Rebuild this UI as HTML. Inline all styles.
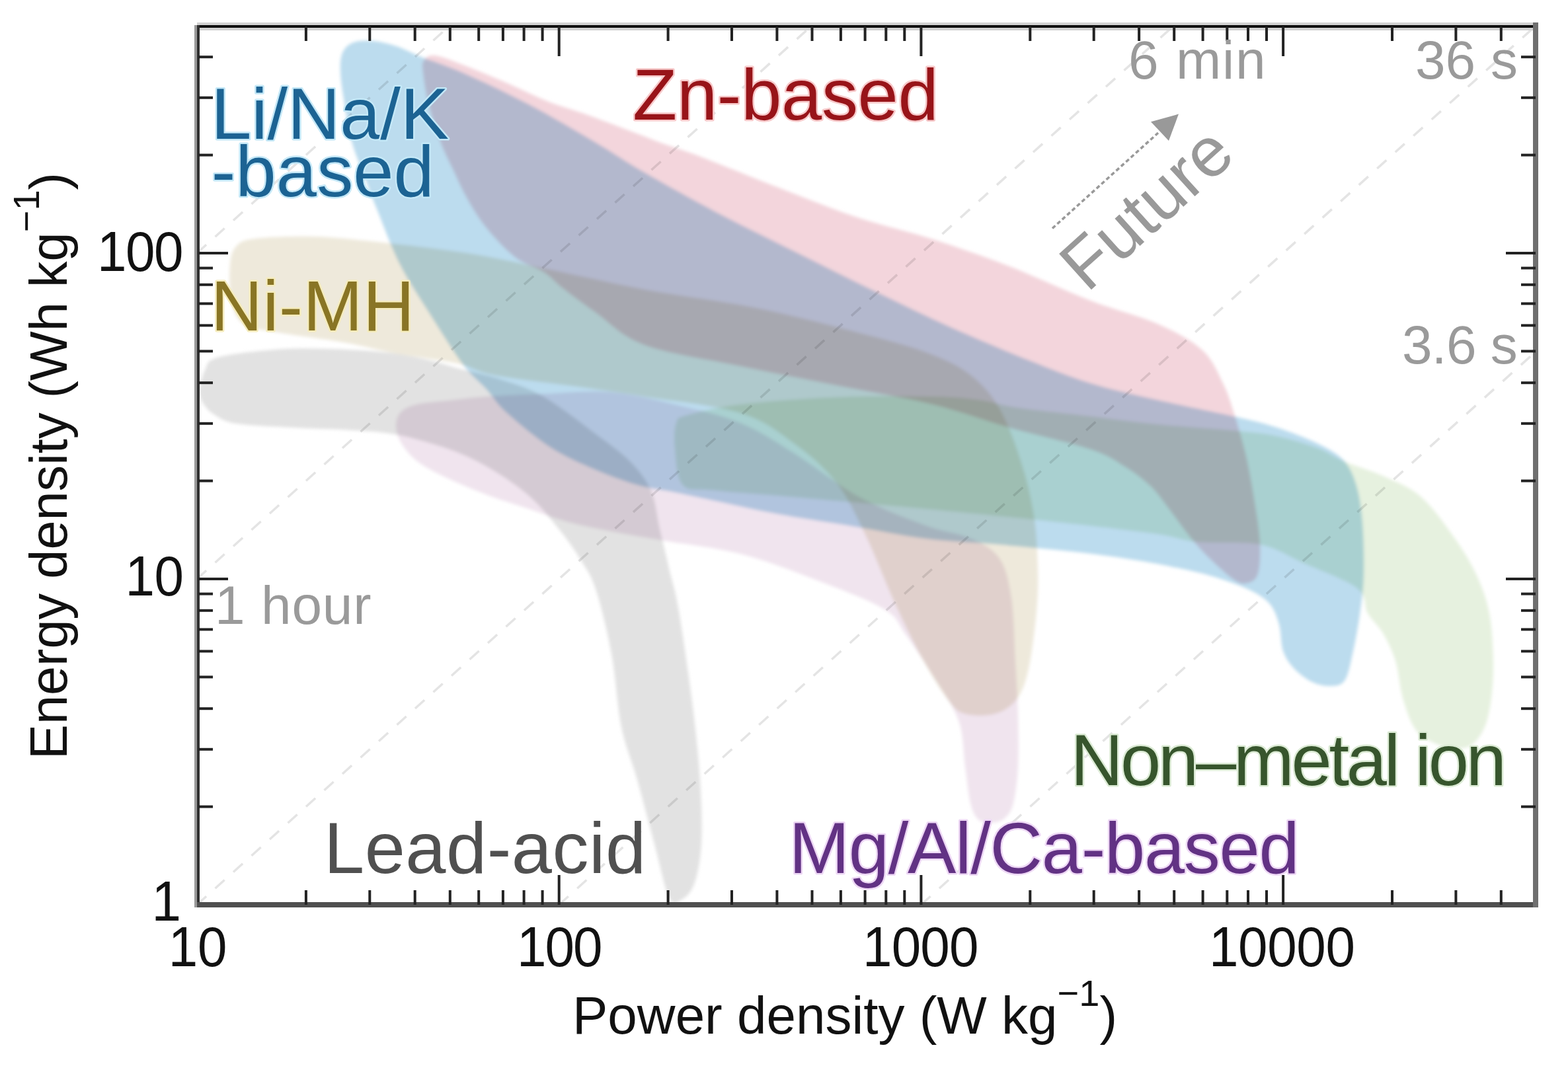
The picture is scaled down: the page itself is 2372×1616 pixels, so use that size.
<!DOCTYPE html>
<html><head><meta charset="utf-8"><style>
html,body{margin:0;padding:0;background:#fff;width:2372px;height:1616px;overflow:hidden}
svg{display:block}
text{font-family:"Liberation Sans",Arial,sans-serif}
.b{mix-blend-mode:multiply}
</style></head><body>
<svg width="2372" height="1616" viewBox="0 0 2372 1616">
<defs><filter id="bl" x="-5%" y="-5%" width="110%" height="110%"><feGaussianBlur stdDeviation="2.5"/></filter></defs>
<rect width="2372" height="1616" fill="#fff"/>

<g filter="url(#bl)">
<path class="b" d="M302.0,590.0 C302.5,581.7 305.5,568.2 310.0,560.0 C314.5,551.8 311.3,546.2 329.0,541.0 C346.7,535.8 387.0,531.2 416.0,529.0 C445.0,526.8 474.0,527.2 503.0,528.0 C532.0,528.8 565.7,531.2 590.0,534.0 C614.3,536.8 632.0,541.2 649.0,545.0 C666.0,548.8 673.5,552.0 692.0,557.0 C710.5,562.0 738.3,567.8 760.0,575.0 C781.7,582.2 798.8,586.7 822.0,600.0 C845.2,613.3 877.0,638.5 899.0,655.0 C921.0,671.5 939.7,684.3 954.0,699.0 C968.3,713.7 977.7,726.2 985.0,743.0 C992.3,759.8 993.5,780.5 998.0,800.0 C1002.5,819.5 1007.2,839.2 1012.0,860.0 C1016.8,880.8 1021.0,890.0 1027.0,925.0 C1033.0,960.0 1042.7,1027.5 1048.0,1070.0 C1053.3,1112.5 1056.8,1145.5 1059.0,1180.0 C1061.2,1214.5 1062.5,1250.7 1061.0,1277.0 C1059.5,1303.3 1055.2,1323.8 1050.0,1338.0 C1044.8,1352.2 1036.3,1358.7 1030.0,1362.0 C1023.7,1365.3 1018.7,1372.2 1012.0,1358.0 C1005.3,1343.8 998.0,1306.7 990.0,1277.0 C982.0,1247.3 972.3,1209.5 964.0,1180.0 C955.7,1150.5 946.5,1131.8 940.0,1100.0 C933.5,1068.2 931.5,1023.8 925.0,989.0 C918.5,954.2 909.0,915.0 901.0,891.0 C893.0,867.0 886.3,860.2 877.0,845.0 C867.7,829.8 857.8,815.8 845.0,800.0 C832.2,784.2 817.5,765.3 800.0,750.0 C782.5,734.7 760.0,719.7 740.0,708.0 C720.0,696.3 703.0,688.3 680.0,680.0 C657.0,671.7 626.7,662.8 602.0,658.0 C577.3,653.2 558.2,652.8 532.0,651.0 C505.8,649.2 474.0,648.7 445.0,647.0 C416.0,645.3 378.0,644.2 358.0,641.0 C338.0,637.8 333.5,633.2 325.0,628.0 C316.5,622.8 310.8,616.3 307.0,610.0 C303.2,603.7 301.5,598.3 302.0,590.0Z" fill="rgb(226,226,226)"/>
<path class="b" d="M348.0,400.0 C349.3,386.2 351.5,378.5 358.0,372.0 C364.5,365.5 367.7,363.3 387.0,361.0 C406.3,358.7 445.0,357.3 474.0,358.0 C503.0,358.7 522.2,360.8 561.0,365.0 C599.8,369.2 663.3,376.2 707.0,383.0 C750.7,389.8 778.3,396.8 823.0,406.0 C867.7,415.2 920.7,427.8 975.0,438.0 C1029.3,448.2 1090.8,455.0 1149.0,467.0 C1207.2,479.0 1280.3,498.3 1324.0,510.0 C1367.7,521.7 1386.8,527.3 1411.0,537.0 C1435.2,546.7 1452.2,554.5 1469.0,568.0 C1485.8,581.5 1499.3,596.0 1512.0,618.0 C1524.7,640.0 1536.3,673.0 1545.0,700.0 C1553.7,727.0 1559.8,753.3 1564.0,780.0 C1568.2,806.7 1569.3,835.8 1570.0,860.0 C1570.7,884.2 1570.3,899.7 1568.0,925.0 C1565.7,950.3 1561.0,989.8 1556.0,1012.0 C1551.0,1034.2 1546.5,1046.7 1538.0,1058.0 C1529.5,1069.3 1518.0,1076.3 1505.0,1080.0 C1492.0,1083.7 1471.7,1083.3 1460.0,1080.0 C1448.3,1076.7 1445.7,1073.7 1435.0,1060.0 C1424.3,1046.3 1409.7,1022.8 1396.0,998.0 C1382.3,973.2 1367.5,942.5 1353.0,911.0 C1338.5,879.5 1323.7,839.2 1309.0,809.0 C1294.3,778.8 1283.2,753.2 1265.0,730.0 C1246.8,706.8 1224.2,687.5 1200.0,670.0 C1175.8,652.5 1157.5,636.7 1120.0,625.0 C1082.5,613.3 1014.8,606.5 975.0,600.0 C935.2,593.5 918.5,591.3 881.0,586.0 C843.5,580.7 781.5,574.0 750.0,568.0 C718.5,562.0 717.0,555.5 692.0,550.0 C667.0,544.5 628.7,540.3 600.0,535.0 C571.3,529.7 550.0,523.3 520.0,518.0 C490.0,512.7 445.3,507.7 420.0,503.0 C394.7,498.3 379.7,498.0 368.0,490.0 C356.3,482.0 353.3,470.0 350.0,455.0 C346.7,440.0 346.7,413.8 348.0,400.0Z" fill="rgb(238,233,219)"/>
<path class="b" d="M599.0,645.0 C598.7,637.0 600.8,629.5 606.0,624.0 C611.2,618.5 618.0,615.0 630.0,612.0 C642.0,609.0 660.3,608.0 678.0,606.0 C695.7,604.0 712.0,601.7 736.0,600.0 C760.0,598.3 791.2,597.2 822.0,596.0 C852.8,594.8 887.8,590.3 921.0,593.0 C954.2,595.7 987.8,604.2 1021.0,612.0 C1054.2,619.8 1090.2,627.8 1120.0,640.0 C1149.8,652.2 1170.0,666.3 1200.0,685.0 C1230.0,703.7 1266.7,733.7 1300.0,752.0 C1333.3,770.3 1371.8,784.5 1400.0,795.0 C1428.2,805.5 1450.3,806.7 1469.0,815.0 C1487.7,823.3 1501.8,830.0 1512.0,845.0 C1522.2,860.0 1526.0,879.2 1530.0,905.0 C1534.0,930.8 1534.3,970.5 1536.0,1000.0 C1537.7,1029.5 1539.3,1055.3 1540.0,1082.0 C1540.7,1108.7 1541.2,1137.8 1540.0,1160.0 C1538.8,1182.2 1536.3,1202.0 1533.0,1215.0 C1529.7,1228.0 1525.5,1233.0 1520.0,1238.0 C1514.5,1243.0 1506.7,1244.7 1500.0,1245.0 C1493.3,1245.3 1485.3,1245.0 1480.0,1240.0 C1474.7,1235.0 1471.3,1228.3 1468.0,1215.0 C1464.7,1201.7 1463.0,1180.8 1460.0,1160.0 C1457.0,1139.2 1458.3,1113.3 1450.0,1090.0 C1441.7,1066.7 1423.3,1041.7 1410.0,1020.0 C1396.7,998.3 1382.0,976.3 1370.0,960.0 C1358.0,943.7 1360.3,935.7 1338.0,922.0 C1315.7,908.3 1272.3,892.0 1236.0,878.0 C1199.7,864.0 1158.7,848.0 1120.0,838.0 C1081.3,828.0 1035.7,823.5 1004.0,818.0 C972.3,812.5 954.0,809.7 930.0,805.0 C906.0,800.3 881.7,795.8 860.0,790.0 C838.3,784.2 820.0,776.7 800.0,770.0 C780.0,763.3 760.0,757.5 740.0,750.0 C720.0,742.5 697.7,733.3 680.0,725.0 C662.3,716.7 646.0,708.8 634.0,700.0 C622.0,691.2 613.8,681.2 608.0,672.0 C602.2,662.8 599.3,653.0 599.0,645.0Z" fill="rgb(240,228,238)"/>
<path class="b" d="M1021.0,680.0 C1019.3,664.3 1019.8,648.7 1023.0,640.0 C1026.2,631.3 1023.8,632.7 1040.0,628.0 C1056.2,623.3 1082.5,616.5 1120.0,612.0 C1157.5,607.5 1216.5,603.0 1265.0,601.0 C1313.5,599.0 1375.2,599.3 1411.0,600.0 C1446.8,600.7 1458.5,602.2 1480.0,605.0 C1501.5,607.8 1511.7,612.8 1540.0,617.0 C1568.3,621.2 1615.0,625.8 1650.0,630.0 C1685.0,634.2 1713.2,638.3 1750.0,642.0 C1786.8,645.7 1840.7,649.0 1871.0,652.0 C1901.3,655.0 1911.7,655.7 1932.0,660.0 C1952.3,664.3 1976.2,671.7 1993.0,678.0 C2009.8,684.3 2016.2,690.8 2033.0,698.0 C2049.8,705.2 2074.5,712.0 2094.0,721.0 C2113.5,730.0 2132.2,736.3 2150.0,752.0 C2167.8,767.7 2187.0,795.2 2201.0,815.0 C2215.0,834.8 2225.3,852.2 2234.0,871.0 C2242.7,889.8 2248.8,906.7 2253.0,928.0 C2257.2,949.3 2258.5,977.7 2259.0,999.0 C2259.5,1020.3 2258.2,1039.2 2256.0,1056.0 C2253.8,1072.8 2251.2,1088.0 2246.0,1100.0 C2240.8,1112.0 2233.5,1122.7 2225.0,1128.0 C2216.5,1133.3 2205.0,1133.0 2195.0,1132.0 C2185.0,1131.0 2174.2,1127.0 2165.0,1122.0 C2155.8,1117.0 2147.2,1113.0 2140.0,1102.0 C2132.8,1091.0 2126.8,1073.0 2122.0,1056.0 C2117.2,1039.0 2116.0,1016.3 2111.0,1000.0 C2106.0,983.7 2099.0,970.0 2092.0,958.0 C2085.0,946.0 2075.5,939.3 2069.0,928.0 C2062.5,916.7 2069.2,902.7 2053.0,890.0 C2036.8,877.3 1996.5,863.0 1972.0,852.0 C1947.5,841.0 1932.8,829.3 1906.0,824.0 C1879.2,818.7 1837.0,822.7 1811.0,820.0 C1785.0,817.3 1785.2,813.0 1750.0,808.0 C1714.8,803.0 1658.3,796.3 1600.0,790.0 C1541.7,783.7 1466.7,776.3 1400.0,770.0 C1333.3,763.7 1253.3,756.7 1200.0,752.0 C1146.7,747.3 1107.8,745.0 1080.0,742.0 C1052.2,739.0 1042.8,744.3 1033.0,734.0 C1023.2,723.7 1022.7,695.7 1021.0,680.0Z" fill="rgb(230,241,223)"/>
<path class="b" d="M515.0,110.0 C514.5,97.3 514.7,87.7 518.0,80.0 C521.3,72.3 527.2,67.0 535.0,64.0 C542.8,61.0 554.2,61.0 565.0,62.0 C575.8,63.0 588.0,66.0 600.0,70.0 C612.0,74.0 620.3,79.3 637.0,86.0 C653.7,92.7 672.8,98.0 700.0,110.0 C727.2,122.0 766.7,140.5 800.0,158.0 C833.3,175.5 870.8,197.8 900.0,215.0 C929.2,232.2 943.2,242.7 975.0,261.0 C1006.8,279.3 1052.3,304.7 1091.0,325.0 C1129.7,345.3 1168.2,363.7 1207.0,383.0 C1245.8,402.3 1285.2,422.2 1324.0,441.0 C1362.8,459.8 1401.3,478.7 1440.0,496.0 C1478.7,513.3 1521.0,531.0 1556.0,545.0 C1591.0,559.0 1617.7,570.0 1650.0,580.0 C1682.3,590.0 1713.2,596.5 1750.0,605.0 C1786.8,613.5 1840.7,624.0 1871.0,631.0 C1901.3,638.0 1911.7,640.3 1932.0,647.0 C1952.3,653.7 1976.2,662.7 1993.0,671.0 C2009.8,679.3 2023.2,686.3 2033.0,697.0 C2042.8,707.7 2047.3,719.5 2052.0,735.0 C2056.7,750.5 2059.2,767.5 2061.0,790.0 C2062.8,812.5 2063.7,846.7 2063.0,870.0 C2062.3,893.3 2059.8,910.0 2057.0,930.0 C2054.2,950.0 2049.8,973.3 2046.0,990.0 C2042.2,1006.7 2039.7,1022.0 2034.0,1030.0 C2028.3,1038.0 2020.2,1037.7 2012.0,1038.0 C2003.8,1038.3 1994.0,1036.3 1985.0,1032.0 C1976.0,1027.7 1965.3,1019.8 1958.0,1012.0 C1950.7,1004.2 1944.8,996.2 1941.0,985.0 C1937.2,973.8 1938.3,956.8 1935.0,945.0 C1931.7,933.2 1928.0,922.5 1921.0,914.0 C1914.0,905.5 1904.8,900.2 1893.0,894.0 C1881.2,887.8 1865.0,882.0 1850.0,877.0 C1835.0,872.0 1823.5,868.7 1803.0,864.0 C1782.5,859.3 1752.2,853.3 1727.0,849.0 C1701.8,844.7 1677.2,841.2 1652.0,838.0 C1626.8,834.8 1601.3,832.5 1576.0,830.0 C1550.7,827.5 1529.3,825.5 1500.0,823.0 C1470.7,820.5 1434.3,819.3 1400.0,815.0 C1365.7,810.7 1331.0,803.2 1294.0,797.0 C1257.0,790.8 1212.5,784.3 1178.0,778.0 C1143.5,771.7 1113.2,764.5 1087.0,759.0 C1060.8,753.5 1041.3,749.2 1021.0,745.0 C1000.7,740.8 985.3,739.8 965.0,734.0 C944.7,728.2 921.0,719.5 899.0,710.0 C877.0,700.5 855.2,691.3 833.0,677.0 C810.8,662.7 782.2,638.7 766.0,624.0 C749.8,609.3 747.0,601.2 736.0,589.0 C725.0,576.8 714.5,570.3 700.0,551.0 C685.5,531.7 664.8,498.2 649.0,473.0 C633.2,447.8 618.2,426.2 605.0,400.0 C591.8,373.8 578.7,337.3 570.0,316.0 C561.3,294.7 559.3,289.0 553.0,272.0 C546.7,255.0 537.3,233.3 532.0,214.0 C526.7,194.7 523.8,173.3 521.0,156.0 C518.2,138.7 515.5,122.7 515.0,110.0Z" fill="rgb(188,220,238)"/>
<path class="b" d="M640.0,110.0 C638.8,99.3 638.0,96.3 641.0,92.0 C644.0,87.7 647.3,82.7 658.0,84.0 C668.7,85.3 686.3,92.8 705.0,100.0 C723.7,107.2 749.2,118.0 770.0,127.0 C790.8,136.0 810.2,146.2 830.0,154.0 C849.8,161.8 866.3,165.8 889.0,174.0 C911.7,182.2 946.7,195.7 966.0,203.0 C985.3,210.3 989.0,212.2 1005.0,218.0 C1021.0,223.8 1033.2,227.0 1062.0,238.0 C1090.8,249.0 1139.3,269.0 1178.0,284.0 C1216.7,299.0 1255.2,315.0 1294.0,328.0 C1332.8,341.0 1372.2,349.5 1411.0,362.0 C1449.8,374.5 1487.2,387.5 1527.0,403.0 C1566.8,418.5 1612.7,440.5 1650.0,455.0 C1687.3,469.5 1722.8,477.5 1751.0,490.0 C1779.2,502.5 1802.5,515.0 1819.0,530.0 C1835.5,545.0 1842.0,564.0 1850.0,580.0 C1858.0,596.0 1861.2,607.7 1867.0,626.0 C1872.8,644.3 1879.8,667.7 1885.0,690.0 C1890.2,712.3 1894.5,738.0 1898.0,760.0 C1901.5,782.0 1905.2,804.0 1906.0,822.0 C1906.8,840.0 1906.0,858.0 1903.0,868.0 C1900.0,878.0 1893.8,880.3 1888.0,882.0 C1882.2,883.7 1877.7,884.2 1868.0,878.0 C1858.3,871.8 1841.3,856.0 1830.0,845.0 C1818.7,834.0 1810.0,824.2 1800.0,812.0 C1790.0,799.8 1780.0,784.8 1770.0,772.0 C1760.0,759.2 1751.7,746.2 1740.0,735.0 C1728.3,723.8 1715.0,714.2 1700.0,705.0 C1685.0,695.8 1678.8,689.7 1650.0,680.0 C1621.2,670.3 1566.8,658.3 1527.0,647.0 C1487.2,635.7 1454.7,622.7 1411.0,612.0 C1367.3,601.3 1313.5,592.7 1265.0,583.0 C1216.5,573.3 1168.3,564.2 1120.0,554.0 C1071.7,543.8 1011.7,535.7 975.0,522.0 C938.3,508.3 920.8,486.5 900.0,472.0 C879.2,457.5 862.8,445.0 850.0,435.0 C837.2,425.0 834.8,419.7 823.0,412.0 C811.2,404.3 793.5,400.2 779.0,389.0 C764.5,377.8 748.0,359.7 736.0,345.0 C724.0,330.3 715.3,315.5 707.0,301.0 C698.7,286.5 692.8,272.5 686.0,258.0 C679.2,243.5 672.3,231.0 666.0,214.0 C659.7,197.0 652.3,173.3 648.0,156.0 C643.7,138.7 641.2,120.7 640.0,110.0Z" fill="rgb(243,213,220)"/>
</g>
<g stroke="#e4e4e4" stroke-width="3.5" stroke-dasharray="19 18" fill="none" style="mix-blend-mode:multiply">
<line x1="298.0" y1="383.0" x2="680.8" y2="38.4"/>
<line x1="298.0" y1="876.0" x2="1228.5" y2="38.4"/>
<line x1="298.0" y1="1369.0" x2="1776.2" y2="38.4"/>
<line x1="845.7" y1="1369.0" x2="2323.9" y2="38.4"/>
<line x1="1393.4" y1="1369.0" x2="2323.9" y2="531.4"/>
</g>
<rect x="298" y="34" width="2029" height="12" fill="#d2d2d2"/>
<rect x="298" y="38" width="2029" height="4" fill="#0c0c0c"/>
<rect x="294" y="38" width="4" height="1335" fill="#9a9a9a"/>
<rect x="298" y="38" width="4" height="1335" fill="#303030"/>
<rect x="298" y="1365" width="2029" height="8" fill="#4f4f4f"/>
<rect x="2319" y="34" width="8" height="1339" fill="#6f6f6f"/>
<g stroke="#222" stroke-width="4" fill="none">
<line x1="462.9" y1="1369" x2="462.9" y2="1347"/>
<line x1="462.9" y1="40" x2="462.9" y2="62"/>
<line x1="559.3" y1="1369" x2="559.3" y2="1347"/>
<line x1="559.3" y1="40" x2="559.3" y2="62"/>
<line x1="627.7" y1="1369" x2="627.7" y2="1347"/>
<line x1="627.7" y1="40" x2="627.7" y2="62"/>
<line x1="680.8" y1="1369" x2="680.8" y2="1347"/>
<line x1="680.8" y1="40" x2="680.8" y2="62"/>
<line x1="724.2" y1="1369" x2="724.2" y2="1347"/>
<line x1="724.2" y1="40" x2="724.2" y2="62"/>
<line x1="760.9" y1="1369" x2="760.9" y2="1347"/>
<line x1="760.9" y1="40" x2="760.9" y2="62"/>
<line x1="792.6" y1="1369" x2="792.6" y2="1347"/>
<line x1="792.6" y1="40" x2="792.6" y2="62"/>
<line x1="820.6" y1="1369" x2="820.6" y2="1347"/>
<line x1="820.6" y1="40" x2="820.6" y2="62"/>
<line x1="845.7" y1="1369" x2="845.7" y2="1324"/>
<line x1="845.7" y1="40" x2="845.7" y2="85"/>
<line x1="1010.6" y1="1369" x2="1010.6" y2="1347"/>
<line x1="1010.6" y1="40" x2="1010.6" y2="62"/>
<line x1="1107.0" y1="1369" x2="1107.0" y2="1347"/>
<line x1="1107.0" y1="40" x2="1107.0" y2="62"/>
<line x1="1175.4" y1="1369" x2="1175.4" y2="1347"/>
<line x1="1175.4" y1="40" x2="1175.4" y2="62"/>
<line x1="1228.5" y1="1369" x2="1228.5" y2="1347"/>
<line x1="1228.5" y1="40" x2="1228.5" y2="62"/>
<line x1="1271.9" y1="1369" x2="1271.9" y2="1347"/>
<line x1="1271.9" y1="40" x2="1271.9" y2="62"/>
<line x1="1308.6" y1="1369" x2="1308.6" y2="1347"/>
<line x1="1308.6" y1="40" x2="1308.6" y2="62"/>
<line x1="1340.3" y1="1369" x2="1340.3" y2="1347"/>
<line x1="1340.3" y1="40" x2="1340.3" y2="62"/>
<line x1="1368.3" y1="1369" x2="1368.3" y2="1347"/>
<line x1="1368.3" y1="40" x2="1368.3" y2="62"/>
<line x1="1393.4" y1="1369" x2="1393.4" y2="1324"/>
<line x1="1393.4" y1="40" x2="1393.4" y2="85"/>
<line x1="1558.3" y1="1369" x2="1558.3" y2="1347"/>
<line x1="1558.3" y1="40" x2="1558.3" y2="62"/>
<line x1="1654.7" y1="1369" x2="1654.7" y2="1347"/>
<line x1="1654.7" y1="40" x2="1654.7" y2="62"/>
<line x1="1723.1" y1="1369" x2="1723.1" y2="1347"/>
<line x1="1723.1" y1="40" x2="1723.1" y2="62"/>
<line x1="1776.2" y1="1369" x2="1776.2" y2="1347"/>
<line x1="1776.2" y1="40" x2="1776.2" y2="62"/>
<line x1="1819.6" y1="1369" x2="1819.6" y2="1347"/>
<line x1="1819.6" y1="40" x2="1819.6" y2="62"/>
<line x1="1856.3" y1="1369" x2="1856.3" y2="1347"/>
<line x1="1856.3" y1="40" x2="1856.3" y2="62"/>
<line x1="1888.0" y1="1369" x2="1888.0" y2="1347"/>
<line x1="1888.0" y1="40" x2="1888.0" y2="62"/>
<line x1="1916.0" y1="1369" x2="1916.0" y2="1347"/>
<line x1="1916.0" y1="40" x2="1916.0" y2="62"/>
<line x1="1941.1" y1="1369" x2="1941.1" y2="1324"/>
<line x1="1941.1" y1="40" x2="1941.1" y2="85"/>
<line x1="2106.0" y1="1369" x2="2106.0" y2="1347"/>
<line x1="2106.0" y1="40" x2="2106.0" y2="62"/>
<line x1="2202.4" y1="1369" x2="2202.4" y2="1347"/>
<line x1="2202.4" y1="40" x2="2202.4" y2="62"/>
<line x1="2270.8" y1="1369" x2="2270.8" y2="1347"/>
<line x1="2270.8" y1="40" x2="2270.8" y2="62"/>
<line x1="300" y1="1220.6" x2="322" y2="1220.6"/>
<line x1="2323" y1="1220.6" x2="2301" y2="1220.6"/>
<line x1="300" y1="1133.8" x2="322" y2="1133.8"/>
<line x1="2323" y1="1133.8" x2="2301" y2="1133.8"/>
<line x1="300" y1="1072.2" x2="322" y2="1072.2"/>
<line x1="2323" y1="1072.2" x2="2301" y2="1072.2"/>
<line x1="300" y1="1024.4" x2="322" y2="1024.4"/>
<line x1="2323" y1="1024.4" x2="2301" y2="1024.4"/>
<line x1="300" y1="985.4" x2="322" y2="985.4"/>
<line x1="2323" y1="985.4" x2="2301" y2="985.4"/>
<line x1="300" y1="952.4" x2="322" y2="952.4"/>
<line x1="2323" y1="952.4" x2="2301" y2="952.4"/>
<line x1="300" y1="923.8" x2="322" y2="923.8"/>
<line x1="2323" y1="923.8" x2="2301" y2="923.8"/>
<line x1="300" y1="898.6" x2="322" y2="898.6"/>
<line x1="2323" y1="898.6" x2="2301" y2="898.6"/>
<line x1="300" y1="876.0" x2="345" y2="876.0"/>
<line x1="2323" y1="876.0" x2="2278" y2="876.0"/>
<line x1="300" y1="727.6" x2="322" y2="727.6"/>
<line x1="2323" y1="727.6" x2="2301" y2="727.6"/>
<line x1="300" y1="640.8" x2="322" y2="640.8"/>
<line x1="2323" y1="640.8" x2="2301" y2="640.8"/>
<line x1="300" y1="579.2" x2="322" y2="579.2"/>
<line x1="2323" y1="579.2" x2="2301" y2="579.2"/>
<line x1="300" y1="531.4" x2="322" y2="531.4"/>
<line x1="2323" y1="531.4" x2="2301" y2="531.4"/>
<line x1="300" y1="492.4" x2="322" y2="492.4"/>
<line x1="2323" y1="492.4" x2="2301" y2="492.4"/>
<line x1="300" y1="459.4" x2="322" y2="459.4"/>
<line x1="2323" y1="459.4" x2="2301" y2="459.4"/>
<line x1="300" y1="430.8" x2="322" y2="430.8"/>
<line x1="2323" y1="430.8" x2="2301" y2="430.8"/>
<line x1="300" y1="405.6" x2="322" y2="405.6"/>
<line x1="2323" y1="405.6" x2="2301" y2="405.6"/>
<line x1="300" y1="383.0" x2="345" y2="383.0"/>
<line x1="2323" y1="383.0" x2="2278" y2="383.0"/>
<line x1="300" y1="234.6" x2="322" y2="234.6"/>
<line x1="2323" y1="234.6" x2="2301" y2="234.6"/>
<line x1="300" y1="147.8" x2="322" y2="147.8"/>
<line x1="2323" y1="147.8" x2="2301" y2="147.8"/>
<line x1="300" y1="86.2" x2="322" y2="86.2"/>
<line x1="2323" y1="86.2" x2="2301" y2="86.2"/>
</g>
<text transform="translate(254.8,1462.0) scale(1,1.070)" font-size="80" fill="#111" textLength="88.6" lengthAdjust="spacing">10</text>
<text transform="translate(782.0,1462.0) scale(1,1.070)" font-size="80" fill="#111" textLength="129.5" lengthAdjust="spacing">100</text>
<text transform="translate(1305.0,1462.0) scale(1,1.070)" font-size="80" fill="#111" textLength="175.5" lengthAdjust="spacing">1000</text>
<text transform="translate(1829.0,1462.0) scale(1,1.070)" font-size="80" fill="#111" textLength="221.0" lengthAdjust="spacing">10000</text>
<text transform="translate(147.0,410.0) scale(1,1.070)" font-size="80" fill="#111" textLength="130.5" lengthAdjust="spacing">100</text>
<text transform="translate(189.5,901.0) scale(1,1.070)" font-size="80" fill="#111" textLength="88.5" lengthAdjust="spacing">10</text>
<text transform="translate(229.4,1392.7) scale(1,1.070)" font-size="80" fill="#111">1</text>
<text x="319.2" y="210.0" font-size="110" fill="#1c6393" textLength="359.8" lengthAdjust="spacing" stroke="#c4e8f7" stroke-width="5" paint-order="stroke" stroke-linejoin="round">Li/Na/K</text>
<text x="319.8" y="297.0" font-size="110" fill="#1c6393" textLength="337.0" lengthAdjust="spacing" stroke="#c4e8f7" stroke-width="5" paint-order="stroke" stroke-linejoin="round">-based</text>
<text x="957.0" y="181.0" font-size="110" fill="#981419" textLength="462.7" lengthAdjust="spacing" stroke="#f7c9ca" stroke-width="5" paint-order="stroke" stroke-linejoin="round">Zn-based</text>
<text x="319.0" y="500.0" font-size="108" fill="#897525" textLength="307.9" lengthAdjust="spacing" stroke="#f5ecbd" stroke-width="5" paint-order="stroke" stroke-linejoin="round">Ni-MH</text>
<text x="325.0" y="944.0" font-size="82" fill="#9a9a9a" textLength="236.5" lengthAdjust="spacing">1 hour</text>
<text x="490.0" y="1321.0" font-size="110" fill="#505050" textLength="487.1" lengthAdjust="spacing">Lead-acid</text>
<text x="1193.4" y="1321.0" font-size="110" fill="#623284" textLength="772.3" lengthAdjust="spacing" stroke="#eed8f5" stroke-width="5" paint-order="stroke" stroke-linejoin="round">Mg/Al/Ca-based</text>
<text x="1619.6" y="1188.0" font-size="110" fill="#37552d" textLength="659.4" lengthAdjust="spacing" stroke="#dcebd5" stroke-width="5" paint-order="stroke" stroke-linejoin="round">Non–metal ion</text>
<text x="1707.0" y="119.0" font-size="82" fill="#9a9a9a" textLength="207.5" lengthAdjust="spacing">6 min</text>
<text x="2141.0" y="119.0" font-size="82" fill="#9a9a9a" textLength="155.0" lengthAdjust="spacing">36 s</text>
<text x="2121.0" y="550.0" font-size="82" fill="#9a9a9a" textLength="174.8" lengthAdjust="spacing">3.6 s</text>
<text x="866" y="1564" font-size="80" fill="#111">Power density (W kg<tspan dy="-42" font-size="56">−1</tspan><tspan dy="42">)</tspan></text>
<text transform="translate(101,1149) rotate(-90)" font-size="79.3" fill="#111">Energy density (Wh kg<tspan dy="-42" font-size="56">−1</tspan><tspan dy="42">)</tspan></text>
<text transform="translate(1644.5,444.0) rotate(-42)" font-size="106.0" fill="#999">Future</text>
<line x1="1592" y1="345.5" x2="1752" y2="201" stroke="#999" stroke-width="3.5" stroke-dasharray="6 4"/>
<polygon points="1783,172.6 1741,184.3 1768,212.9" fill="#999"/>
</svg></body></html>
